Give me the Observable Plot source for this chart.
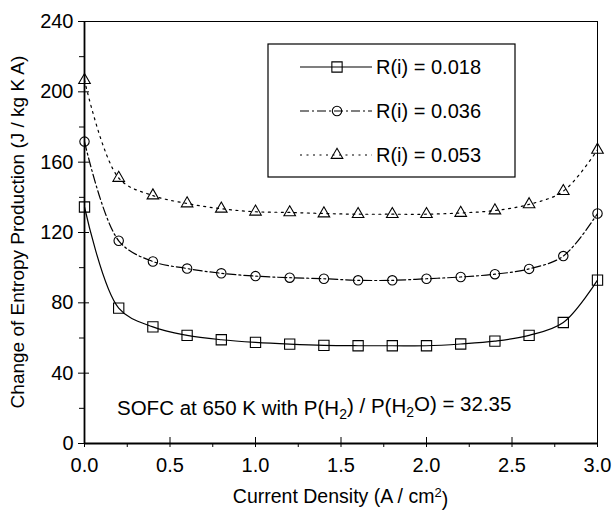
<!DOCTYPE html>
<html><head><meta charset="utf-8">
<script src="https://cdn.jsdelivr.net/npm/d3@7"></script>
<script src="https://cdn.jsdelivr.net/npm/@observablehq/plot@0.6"></script>
<style>
body{margin:0;background:#fff;}
#chart{position:relative;width:612px;height:510px;}
</style></head><body><div id="chart"></div>
<script>
// ---- data ----
const currentDensity = [0.0, 0.2, 0.4, 0.6, 0.8, 1.0, 1.2, 1.4, 1.6, 1.8, 2.0, 2.2, 2.4, 2.6, 2.8, 3.0];
const seriesNames = ["R(i) = 0.018", "R(i) = 0.036", "R(i) = 0.053"];
const entropy018 = [134.5, 77.0, 66.3, 61.5, 59.0, 57.5, 56.5, 55.8, 55.6, 55.6, 55.6, 56.6, 58.2, 61.5, 68.8, 92.9];
const entropy036 = [171.7, 115.3, 103.5, 99.5, 96.8, 95.2, 94.3, 93.7, 92.8, 92.8, 93.7, 94.7, 96.3, 99.3, 106.6, 130.8];
const entropy053 = [206.6, 151.0, 141.0, 136.5, 133.5, 131.8, 131.4, 130.8, 130.4, 130.4, 130.4, 131.1, 132.5, 136.0, 143.5, 167.0];
const xTicks = [0, 0.5, 1.0, 1.5, 2.0, 2.5, 3.0];
const xMinorTicks = [0.25, 0.75, 1.25, 1.75, 2.25, 2.75];
const yTicks = [0, 40, 80, 120, 160, 200, 240];
const yMinorTicks = [20, 60, 100, 140, 180, 220];
const annotationText = ["SOFC at 650 K with P(H", "2", ") / P(H", "2", "O) = 32.35"];

// ---- styles ----
const FONT = "'Liberation Sans', Arial, Helvetica, sans-serif";
const dashes = ["none", "9,3,2,3", "2,4.5"];
const symbols = ["square", "circle", "triangle"];
const radii = [5.8, 4.7, 4.3];

const allValues = [entropy018, entropy036, entropy053];
const rows = [];
seriesNames.forEach((s, i) => currentDensity.forEach((x, j) => rows.push({series: s, x, y: allValues[i][j]})));

const W = 612, H = 510, mL = 84, mR = 15, mT = 21, mB = 67;
const fw = W - mL - mR, fh = H - mT - mB;

const plot = Plot.plot({
  width: W, height: H,
  marginLeft: mL, marginRight: mR, marginTop: mT, marginBottom: mB,
  style: {fontFamily: FONT, fontSize: "20px", color: "#000", background: "#fff", overflow: "visible"},
  x: {domain: [0, 3], label: null},
  y: {domain: [0, 240], label: null},
  symbol: {domain: seriesNames, range: symbols},
  marks: [
    Plot.frame({stroke: "#000", strokeWidth: 1}),
    Plot.axisY(yTicks, {tickSize: 6, tickPadding: 5, label: null, fontSize: 20, tickFormat: d => String(d)}),
    Plot.axisY(yMinorTicks, {tickSize: 5, text: null, label: null}),
    Plot.tickY(yTicks, {y: d => d, stroke: "#000", insetRight: fw - 5}),
    Plot.axisX(xTicks, {tickSize: 4, tickPadding: 10, label: null, fontSize: 20, tickFormat: d => d.toFixed(1)}),
    Plot.axisX(xMinorTicks, {tickSize: 4, text: null, label: null}),
    Plot.tickX(xTicks, {x: d => d, stroke: "#000", insetTop: fh - 6}),
    Plot.ruleX([0], {stroke: "#000", strokeWidth: 1.8}),
    Plot.ruleY([0], {stroke: "#000", strokeWidth: 1.8}),
    ...seriesNames.map((s, i) => Plot.line(rows.filter(r => r.series === s), {
      x: "x", y: "y", curve: "catmull-rom", stroke: "#000", strokeWidth: 1.2, strokeDasharray: dashes[i]
    })),
    ...seriesNames.map((s, i) => Plot.dot(rows.filter(r => r.series === s), {
      x: "x", y: "y", symbol: "series", r: radii[i], stroke: "#000", strokeWidth: 1.1, fill: "none"
    }))
  ]
});
document.getElementById("chart").appendChild(plot);

const svg = d3.select(plot);
const font = (sel, size, anchor) => sel.attr("font-family", FONT).attr("font-size", size)
  .attr("fill", "#000").attr("text-anchor", anchor);

// x axis title with superscript
const xt = svg.append("text").attr("x", mL + fw / 2).attr("y", 503);
font(xt, 19.5, "middle");
xt.append("tspan").text("Current Density (A / cm");
xt.append("tspan").attr("dy", "-0.45em").attr("font-size", 13).text("2");
xt.append("tspan").attr("dy", "0.45em").text(")");

// y axis title
const yt = svg.append("text").attr("transform", `translate(24,${mT + fh / 2}) rotate(-90)`);
font(yt, 19, "middle");
yt.text("Change of Entropy Production (J / kg K A)");

// annotation with subscripts
const an = svg.append("text").attr("x", 117).attr("y", 415);
font(an, 20.5, "start");
annotationText.forEach((t, i) => {
  const sub = i % 2 === 1;
  an.append("tspan").attr("dy", sub ? "0.3em" : (i > 0 ? "-0.3em" : 0)).attr("font-size", sub ? 14 : 20.5).text(t);
});

// legend
const lg = svg.append("g");
lg.append("rect").attr("x", 268).attr("y", 44).attr("width", 247).attr("height", 133)
  .attr("fill", "#fff").attr("stroke", "#000").attr("stroke-width", 1.2);
const sym = d3.scaleOrdinal(seriesNames, [d3.symbolSquare, d3.symbolCircle, d3.symbolTriangle]);
seriesNames.forEach((s, i) => {
  const cy = 67 + i * 44;
  lg.append("line").attr("x1", 300).attr("x2", 372).attr("y1", cy).attr("y2", cy)
    .attr("stroke", "#000").attr("stroke-width", 1.2).attr("stroke-dasharray", dashes[i]);
  lg.append("path").attr("transform", `translate(337,${cy})`)
    .attr("d", d3.symbol(sym(s), Math.PI * radii[i] * radii[i])())
    .attr("fill", "none").attr("stroke", "#000").attr("stroke-width", 1.1);
  const tx = lg.append("text").attr("x", 376).attr("y", cy).attr("dy", "0.35em");
  font(tx, 20, "start");
  tx.text(s);
});
</script></body></html>
